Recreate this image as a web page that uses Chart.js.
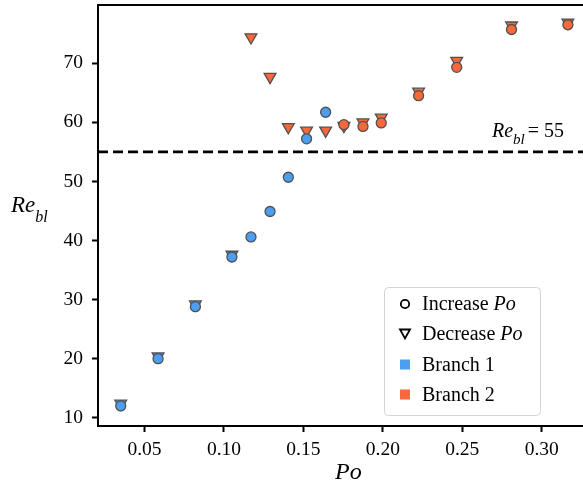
<!DOCTYPE html>
<html>
<head>
<meta charset="utf-8">
<script src="https://cdn.jsdelivr.net/npm/chart.js@4/dist/chart.umd.min.js"></script>
<style>
  html, body { margin: 0; padding: 0; background: #fff; }
  #wrap { width: 583px; height: 496px; }
</style>
</head>
<body>
<div id="wrap"><canvas id="re-chart" width="583" height="496"></canvas></div>
<script>
// Po / Re_bl readings, split by sweep direction and branch
const poIncB1 = [0.035, 0.0585, 0.082, 0.105, 0.117, 0.129, 0.1405, 0.152, 0.164];
const reIncB1 = [12.0, 20.0, 28.8, 37.2, 40.6, 44.9, 50.7, 57.2, 61.7];
const poIncB2 = [0.1755, 0.1875, 0.199, 0.2225, 0.2465, 0.281, 0.3165];
const reIncB2 = [59.6, 59.3, 59.9, 64.5, 69.3, 75.7, 76.5];
const poDecB1 = [0.035, 0.0585, 0.082, 0.105];
const reDecB1 = [12.4, 20.4, 29.2, 37.6];
const poDecB2 = [0.117, 0.129, 0.1405, 0.152, 0.164, 0.1755, 0.1875, 0.199, 0.2225, 0.2465, 0.281, 0.3165];
const reDecB2 = [74.4, 67.7, 59.2, 58.6, 58.6, 59.4, 60.0, 60.8, 65.2, 70.4, 76.4, 76.9];
const reCritical = 55;
const xRange = [0.0207, 0.326];
const yRange = [8.6, 79.85];
const xTickStep = 0.05;
const yTickStep = 10;

const blue = '#4c9ff0';
const orange = '#f9683a';
const edge = '#505050';
const serif = "'Liberation Serif', 'Times New Roman', serif";

function pts(xs, ys) {
    return xs.map((x, i) => ({ x: x, y: ys[i] }));
}

function markerSet(label, xs, ys, fill, style) {
    return {
        label: label,
        data: pts(xs, ys),
        showLine: false,
        pointStyle: style,
        rotation: style === 'triangle' ? 180 : 0,
        pointRadius: style === 'triangle' ? 6.8 : 5,
        pointBackgroundColor: fill,
        pointBorderColor: edge,
        pointBorderWidth: 1.3
    };
}

// draws text pieces in a row: [text, style, size, dy, gap]
function richText(ctx, x, y, parts) {
    parts.forEach(p => {
        ctx.font = p[1] + ' ' + p[2] + 'px ' + serif;
        ctx.fillText(p[0], x, y + (p[3] || 0));
        x += ctx.measureText(p[0]).width + (p[4] || 0);
    });
}

// no auto padding, the plot box runs to the canvas edge like the original
function tightFit(height, width) {
    return s => {
        if (height) s.height = height;
        if (width) s.width = width;
        s.paddingTop = 0;
        s.paddingRight = 0;
        s.paddingLeft = 0;
        s.paddingBottom = 0;
    };
}

const extras = {
    id: 'extras',
    afterDraw(chart) {
        const ctx = chart.ctx;
        const area = chart.chartArea;
        ctx.save();
        // top spine
        ctx.strokeStyle = '#000';
        ctx.lineWidth = 2;
        ctx.beginPath();
        ctx.moveTo(area.left - 1, area.top);
        ctx.lineTo(area.right, area.top);
        ctx.stroke();

        ctx.fillStyle = '#000';
        ctx.textBaseline = 'alphabetic';
        // axis titles
        richText(ctx, 11, 212, [['Re', 'italic', 23], ['bl', 'italic', 16, 10]]);
        richText(ctx, 335, 479, [['Po', 'italic', 24]]);
        // threshold note
        richText(ctx, 492, 137, [['Re', 'italic', 20], ['bl', 'italic', 15, 7, 3], ['= 55', 'normal', 20]]);

        // legend box
        ctx.beginPath();
        ctx.roundRect(384.5, 287.5, 156, 128, 4);
        ctx.fillStyle = 'rgba(255,255,255,0.85)';
        ctx.fill();
        ctx.strokeStyle = '#d4d4d4';
        ctx.lineWidth = 1;
        ctx.stroke();

        const mx = 405, tx = 422;
        // open circle
        ctx.strokeStyle = '#000';
        ctx.lineWidth = 1.8;
        ctx.beginPath();
        ctx.arc(mx, 304, 4.2, 0, Math.PI * 2);
        ctx.stroke();
        // open down triangle
        ctx.beginPath();
        ctx.moveTo(mx - 5, 329.5);
        ctx.lineTo(mx + 5, 329.5);
        ctx.lineTo(mx, 338.5);
        ctx.closePath();
        ctx.stroke();
        // branch squares
        ctx.fillStyle = blue;
        ctx.fillRect(mx - 5, 359.5, 10, 10);
        ctx.fillStyle = orange;
        ctx.fillRect(mx - 5, 389.5, 10, 10);

        ctx.fillStyle = '#000';
        richText(ctx, tx, 310, [['Increase ', 'normal', 20], ['Po', 'italic', 20]]);
        richText(ctx, tx, 340, [['Decrease ', 'normal', 20], ['Po', 'italic', 20]]);
        richText(ctx, tx, 371, [['Branch 1', 'normal', 20]]);
        richText(ctx, tx, 401, [['Branch 2', 'normal', 20]]);
        ctx.restore();
    }
};

const ctx = document.getElementById('re-chart').getContext('2d');
const reChart = new Chart(ctx, {
    type: 'scatter',
    data: {
        datasets: [
            markerSet('Increase Po, Branch 1', poIncB1, reIncB1, blue, 'circle'),
            markerSet('Increase Po, Branch 2', poIncB2, reIncB2, orange, 'circle'),
            markerSet('Decrease Po, Branch 1', poDecB1, reDecB1, blue, 'triangle'),
            markerSet('Decrease Po, Branch 2', poDecB2, reDecB2, orange, 'triangle'),
            {
                label: 'Re_bl = 55',
                data: [{ x: xRange[0], y: reCritical }, { x: xRange[1], y: reCritical }],
                showLine: true,
                borderColor: '#000',
                borderWidth: 2.6,
                borderDash: [10, 5],
                pointRadius: 0
            }
        ]
    },
    options: {
        responsive: false,
        animation: false,
        layout: { autoPadding: false, padding: { top: 5, right: 0, left: 0, bottom: 0 } },
        plugins: {
            legend: { display: false },
            tooltip: { enabled: false }
        },
        scales: {
            x: {
                type: 'linear',
                min: xRange[0],
                max: xRange[1],
                grid: { drawOnChartArea: false, tickLength: 6, tickWidth: 2, tickColor: '#000' },
                border: { color: '#000', width: 2 },
                ticks: {
                    stepSize: xTickStep,
                    includeBounds: false,
                    color: '#000',
                    padding: 6,
                    font: { family: serif, size: 19.5 },
                    callback: v => v.toFixed(2)
                },
                afterFit: tightFit(70, 0)
            },
            y: {
                type: 'linear',
                min: yRange[0],
                max: yRange[1],
                grid: { drawOnChartArea: false, tickLength: 6, tickWidth: 2, tickColor: '#000' },
                border: { color: '#000', width: 2 },
                ticks: {
                    stepSize: yTickStep,
                    includeBounds: false,
                    color: '#000',
                    padding: 9,
                    font: { family: serif, size: 19.5 },
                    callback: v => String(v)
                },
                afterFit: tightFit(0, 98)
            }
        }
    },
    plugins: [extras]
});
</script>
</body>
</html>
